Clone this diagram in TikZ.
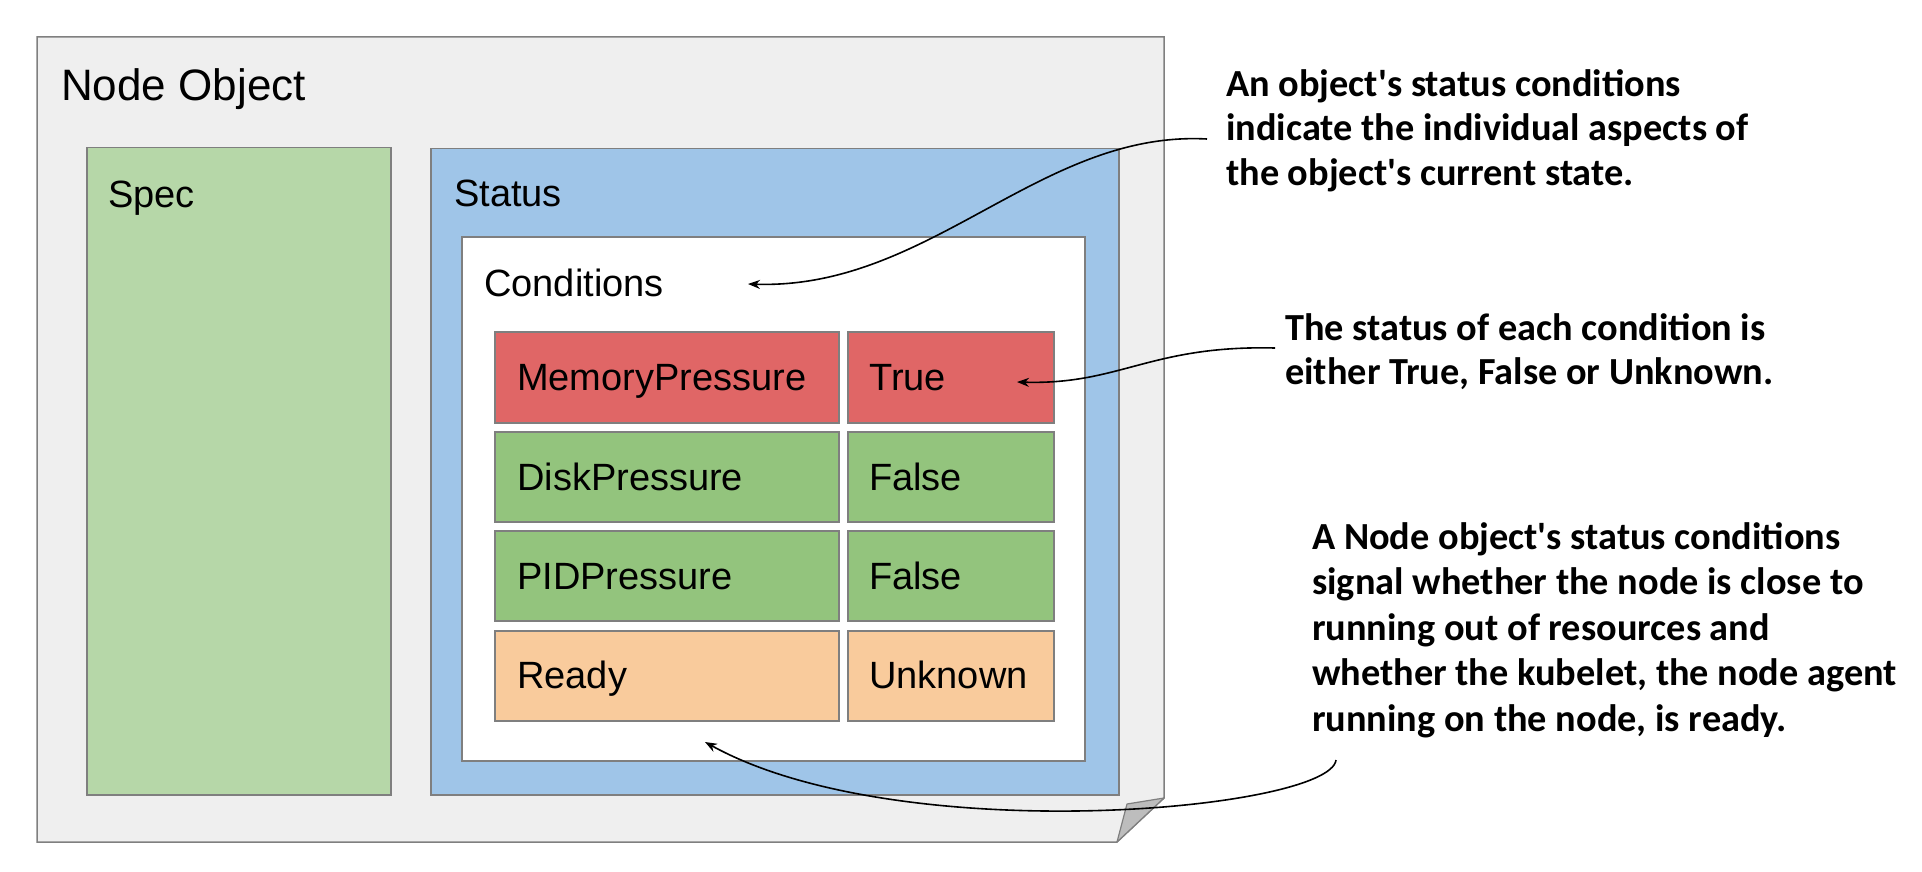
\documentclass[tikz,border=0pt]{standalone}
\usepackage{fontspec}
\setmainfont{Liberation Sans}
\newfontfamily\notefont{Carlito}
\usetikzlibrary{arrows.meta}
\definecolor{outerfill}{HTML}{EFEFEF}
\definecolor{edgegrey}{HTML}{7F7F7F}
\definecolor{foldgrey}{HTML}{BDBDBD}
\definecolor{specgreen}{HTML}{B6D7A8}
\definecolor{statusblue}{HTML}{9FC5E8}
\definecolor{condred}{HTML}{E06666}
\definecolor{condgreen}{HTML}{93C47D}
\definecolor{condorange}{HTML}{F9CB9C}
\tikzset{
  box/.style={draw=edgegrey, line width=1.5pt, rectangle, inner sep=0pt, anchor=north west},
  lbl/.style={anchor=base west, inner sep=0pt, font=\fontsize{38}{44}\selectfont},
  note/.style={anchor=north west, inner sep=0pt, align=left, font=\notefont\bfseries\fontsize{38.3}{44.5}\selectfont},
  pointer/.style={line width=1.6pt, -{Stealth[length=12pt,width=9pt]}}
}
\begin{document}
\begin{tikzpicture}[x=1pt,y=-1pt]
\useasboundingbox (0,0) rectangle (1922,872);
% outer node object with folded corner
\draw[fill=outerfill, draw=edgegrey, line width=1.5pt] (37,37) -- (1164,37) -- (1164,798) -- (1117,842) -- (37,842) -- cycle;
\draw[fill=foldgrey, draw=edgegrey, line width=1.2pt, line join=round] (1127,804) -- (1164,798) -- (1117,842) -- cycle;
\node[lbl, font=\fontsize{44}{50}\selectfont] (nodeobj) at (61,101) {Node Object};
% spec
\node[box, fill=specgreen, minimum width=304pt, minimum height=647pt] (spec) at (86,147) {};
\node[lbl] (speclbl) at (108,207) {Spec};
% status
\node[box, fill=statusblue, minimum width=688pt, minimum height=646pt] (status) at (430,148) {};
\node[lbl] (statuslbl) at (454,206) {Status};
% conditions
\node[box, fill=white, minimum width=623pt, minimum height=524pt] (cond) at (461,236) {};
\node[lbl] (condlbl) at (484,296) {Conditions};
% rows
\node[box, fill=condred, minimum width=344pt, minimum height=91pt] (mp) at (494,331) {};
\node[box, fill=condred, minimum width=206pt, minimum height=91pt] (mpv) at (847,331) {};
\node[box, fill=condgreen, minimum width=344pt, minimum height=90pt] (dp) at (494,431) {};
\node[box, fill=condgreen, minimum width=206pt, minimum height=90pt] (dpv) at (847,431) {};
\node[box, fill=condgreen, minimum width=344pt, minimum height=90pt] (pp) at (494,530) {};
\node[box, fill=condgreen, minimum width=206pt, minimum height=90pt] (ppv) at (847,530) {};
\node[box, fill=condorange, minimum width=344pt, minimum height=90pt] (rd) at (494,630) {};
\node[box, fill=condorange, minimum width=206pt, minimum height=90pt] (rdv) at (847,630) {};
\node[lbl] (mpl) at (517,390) {MemoryPressure};
\node[lbl] (mpvl) at (869,390) {True};
\node[lbl] (dpl) at (517,490) {DiskPressure};
\node[lbl] (dpvl) at (869,490) {False};
\node[lbl] (ppl) at (517,589) {PIDPressure};
\node[lbl] (ppvl) at (869,589) {False};
\node[lbl] (rdl) at (517,688) {Ready};
\node[lbl] (rdvl) at (869,688) {Unknown};
% annotations
\node[note] (note1) at (1226,69) {An object's status conditions\\indicate the individual aspects of\\the object's current state.};
\node[note] (note2) at (1285,313) {The status of each condition is\\either True, False or Unknown.};
\node[note, font=\notefont\bfseries\fontsize{38.3}{45.5}\selectfont] (note3) at (1312,522) {A Node object's status conditions\\signal whether the node is close to\\running out of resources and\\whether the kubelet, the node agent\\running on the node, is ready.};
% pointer coordinates
\coordinate (s1) at (1207,139);
\coordinate (e1) at (748,284);
\coordinate (s2) at (1275,348);
\coordinate (e2) at (1017,382);
\coordinate (s3) at (1336,760);
\coordinate (e3) at (705,742);
\draw[pointer] (s1) .. controls (1040,130) and (930,290) .. (e1);
\draw[pointer] (s2) .. controls (1150,345) and (1120,385) .. (e2);
\draw[pointer] (s3) .. controls (1330,810) and (900,850) .. (e3);
\end{tikzpicture}
\end{document}
